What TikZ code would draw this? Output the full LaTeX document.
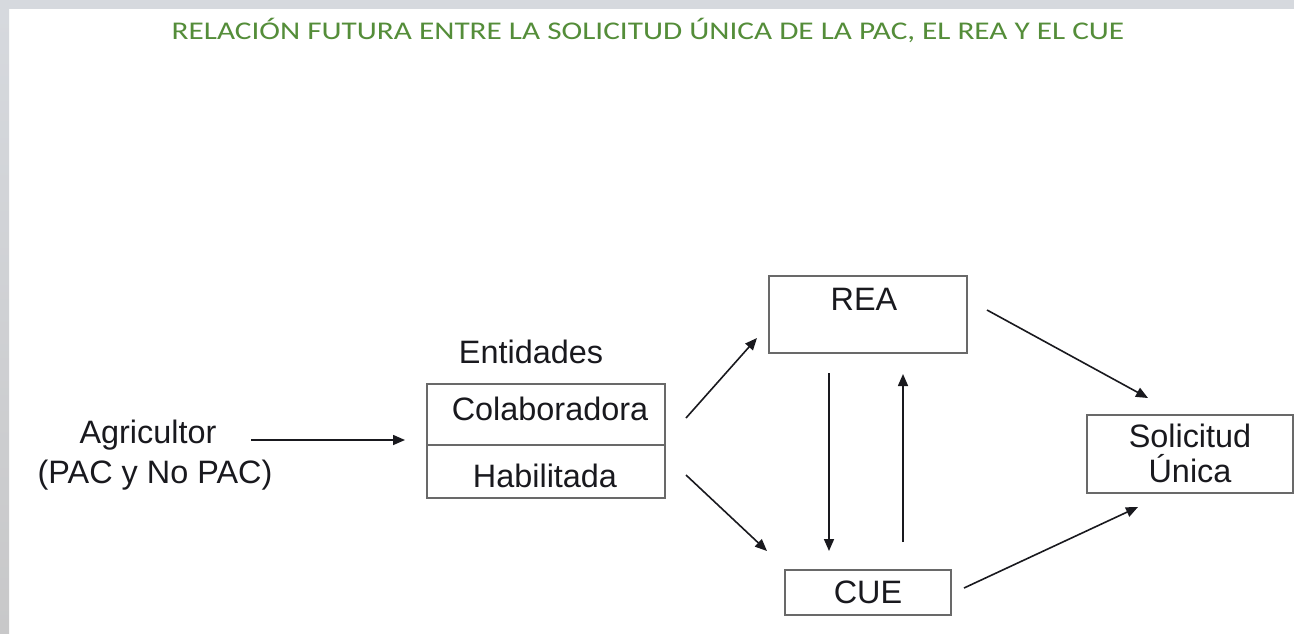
\documentclass[tikz,border=0pt]{standalone}
\usepackage{fontspec}
\setmainfont{Liberation Sans}
\newfontfamily\titlefont{Carlito}
\usetikzlibrary{arrows.meta}
\definecolor{titlegreen}{RGB}{84,141,57}
\definecolor{bandgray}{RGB}{214,217,222}
\definecolor{bandlow}{RGB}{200,200,201}
\definecolor{boxgray}{RGB}{105,105,105}
\definecolor{ink}{RGB}{25,25,30}
\begin{document}
\begin{tikzpicture}[x=1pt,y=-1pt,
  box/.style={draw=boxgray,line width=1.8pt,inner sep=0pt,rectangle},
  txt/.style={anchor=base,text=ink,inner sep=0pt,font=\fontsize{32.4}{40}\selectfont},
  conn/.style={draw=ink,line width=1.6pt,-{Triangle[length=12pt,width=10pt]}},
  line/.style={draw=ink,line width=1.6pt}]
\useasboundingbox (0,0) rectangle (1294,633);
% background
\fill[white] (0,0) rectangle (1294,633);
\fill[bandgray] (0,0) rectangle (1294,9);
\shade[top color=bandgray,bottom color=bandlow] (0,9) rectangle (9,633);
% title
\node[anchor=base,inner sep=0pt,text=titlegreen,font=\titlefont\fontsize{25.5}{28}\selectfont] (title) at (648,39) {\scalebox{1.225}[1]{RELACIÓN FUTURA ENTRE LA SOLICITUD ÚNICA DE LA PAC, EL REA Y EL CUE}};
% left text
\node[txt] (agri) at (148,443) {Agricultor};
\node[txt] (agri2) at (155,483) {(PAC y No PAC)};
% entidades
\node[txt] (ent) at (531,363) {Entidades};
\node[box,minimum width=238pt,minimum height=61pt] (colab) at (546,414.5) {};
\node[box,minimum width=238pt,minimum height=53pt] (habil) at (546,471.5) {};
\node[txt] (colabt) at (550,420) {Colaboradora};
\node[txt] (habilt) at (545,487) {Habilitada};
% REA
\node[box,minimum width=198pt,minimum height=77pt] (rea) at (868,314.5) {};
\node[txt] (reat) at (864,310) {REA};
% CUE
\node[box,minimum width=166pt,minimum height=45pt] (cue) at (868,592.5) {};
\node[txt] (cuet) at (868,603) {CUE};
% Solicitud
\node[box,minimum width=206pt,minimum height=78pt] (sol) at (1190,454) {};
\node[txt] (solt) at (1190,447) {Solicitud};
\node[txt] (solt2) at (1190,482) {Única};
% connector endpoints
\coordinate (a0) at (251,440);
\coordinate (a1) at (405,440);
\coordinate (b0) at (686,418);
\coordinate (b1) at (757,338);
\coordinate (c0) at (686,475);
\coordinate (c1) at (767,551);
\coordinate (d0) at (829,373);
\coordinate (d1) at (829,551);
\coordinate (e0) at (903,542);
\coordinate (e1) at (903,374);
\coordinate (f0) at (987,310);
\coordinate (f1) at (1148,398);
\coordinate (g0) at (964,588);
\coordinate (g1) at (1138,507);
\draw[conn] (a0) -- (a1);
\draw[conn] (b0) -- (b1);
\draw[conn] (c0) -- (c1);
\draw[conn] (d0) -- (d1);
\draw[conn] (e0) -- (e1);
\draw[conn] (f0) -- (f1);
\draw[conn] (g0) -- (g1);
\end{tikzpicture}
\end{document}
